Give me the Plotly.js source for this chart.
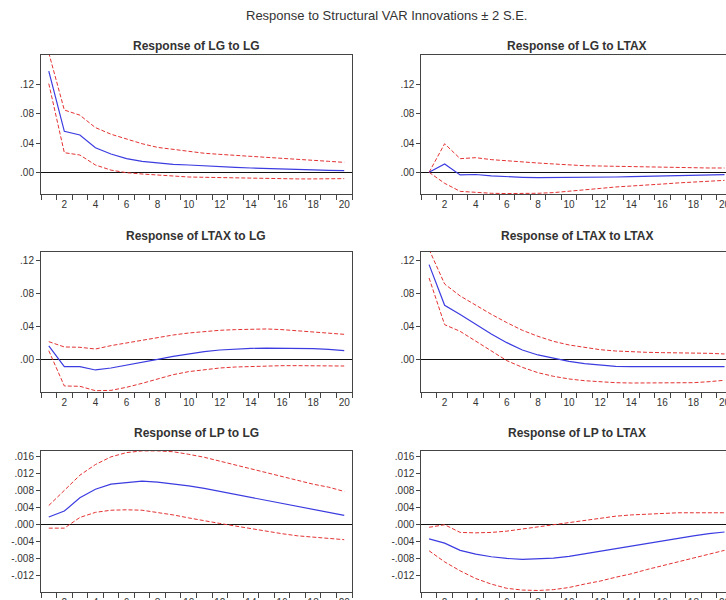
<!DOCTYPE html>
<html><head><meta charset="utf-8">
<script src="https://cdn.plot.ly/plotly-3.0.1.min.js"></script>
<style>html,body{margin:0;padding:0;overflow:hidden;background:#fff;width:726px;height:600px}</style>
</head><body><div id="chart" style="width:736px;height:610px"></div>
<script>
const periods = [1,2,3,4,5,6,7,8,9,10,11,12,13,14,15,16,17,18,19,20];

const lgLg     = [0.138,0.0559,0.0509,0.0336,0.025,0.0186,0.015,0.0127,0.0109,0.010,0.0086,0.0077,0.0068,0.0059,0.005,0.0045,0.0036,0.0032,0.0027,0.0023];
const lgLgUp   = [0.163,0.085,0.078,0.061,0.052,0.045,0.039,0.034,0.031,0.0286,0.026,0.0245,0.023,0.022,0.0205,0.019,0.0177,0.0164,0.015,0.0136];
const lgLgLo   = [0.121,0.0268,0.0236,0.010,0.003,-0.0005,-0.0023,-0.004,-0.0055,-0.0064,-0.0068,-0.0073,-0.0077,-0.0082,-0.0086,-0.009,-0.009,-0.009,-0.0086,-0.0086];

const lgTax    = [0,0.0114,-0.0036,-0.003,-0.005,-0.0064,-0.0068,-0.0073,-0.0073,-0.0073,-0.0068,-0.0068,-0.0064,-0.006,-0.0055,-0.005,-0.0045,-0.004,-0.0036,-0.0032];
const lgTaxUp  = [0,0.039,0.0186,0.020,0.0173,0.0155,0.014,0.0127,0.0114,0.010,0.009,0.0086,0.0082,0.0073,0.0068,0.0068,0.0064,0.0064,0.0059,0.0059];
const lgTaxLo  = [0,-0.015,-0.026,-0.0277,-0.0286,-0.029,-0.029,-0.0286,-0.0277,-0.026,-0.0245,-0.022,-0.020,-0.019,-0.017,-0.016,-0.0145,-0.013,-0.012,-0.011];

const taxLg    = [0.017,-0.0081,-0.0081,-0.0121,-0.0097,-0.0065,-0.0028,0.0008,0.0044,0.0077,0.0101,0.0121,0.0133,0.0141,0.0145,0.0145,0.0141,0.0137,0.0129,0.0113];
const taxLgUp  = [0.0222,0.0158,0.0154,0.0133,0.0174,0.0206,0.0238,0.0275,0.0303,0.0327,0.0347,0.036,0.0368,0.0376,0.0376,0.0368,0.0356,0.0343,0.0327,0.0311];
const taxLgLo  = [0.0113,-0.0315,-0.0319,-0.0372,-0.0368,-0.0331,-0.0283,-0.0226,-0.0178,-0.0141,-0.0117,-0.0097,-0.0085,-0.0077,-0.0077,-0.0069,-0.0069,-0.0069,-0.0069,-0.0073];

const taxTax   = [0.1156,0.0663,0.055,0.0428,0.0315,0.021,0.0121,0.0061,0.002,-0.0016,-0.0044,-0.0065,-0.0077,-0.0081,-0.0081,-0.0081,-0.0081,-0.0081,-0.0081,-0.0081];
const taxTaxUp = [0.134,0.0921,0.0776,0.0663,0.0554,0.0453,0.036,0.0287,0.0226,0.0182,0.015,0.0125,0.0109,0.0097,0.0093,0.0089,0.0089,0.0085,0.0081,0.0073];
const taxTaxLo = [0.0994,0.0428,0.0347,0.0226,0.0105,-0.0008,-0.0089,-0.0154,-0.0198,-0.023,-0.0251,-0.0267,-0.0275,-0.0279,-0.0279,-0.0279,-0.0279,-0.0275,-0.0263,-0.0246];

const lpLg     = [0.0017,0.0031,0.0062,0.0082,0.0094,0.0098,0.0101,0.0099,0.0095,0.009,0.0084,0.0077,0.007,0.0063,0.0055,0.0048,0.0041,0.0034,0.0028,0.0021];
const lpLgUp   = [0.0044,0.008,0.0115,0.014,0.0158,0.0168,0.0172,0.0172,0.017,0.0164,0.0157,0.0148,0.0139,0.013,0.0121,0.0112,0.0103,0.0094,0.0087,0.0077];
const lpLgLo   = [-0.0009,-0.0009,0.0016,0.0028,0.0033,0.0034,0.0033,0.0028,0.0022,0.0015,0.0008,0.0002,-0.0004,-0.001,-0.0017,-0.0022,-0.0027,-0.003,-0.0032,-0.0036];

const lpTax    = [-0.0034,-0.0044,-0.0061,-0.007,-0.0076,-0.008,-0.0082,-0.0081,-0.0079,-0.0075,-0.0069,-0.0063,-0.0057,-0.0051,-0.0044,-0.0038,-0.0032,-0.0027,-0.0022,-0.0018];
const lpTaxUp  = [-0.0007,-0.0001,-0.0019,-0.002,-0.0019,-0.0016,-0.0011,-0.0006,-0.0001,0.0005,0.0009,0.0015,0.0019,0.0022,0.0024,0.0026,0.0027,0.0027,0.0027,0.0027];
const lpTaxLo  = [-0.0062,-0.0088,-0.0109,-0.0127,-0.014,-0.015,-0.0154,-0.0155,-0.0153,-0.0148,-0.014,-0.0133,-0.0124,-0.0116,-0.0106,-0.0097,-0.0087,-0.0078,-0.0069,-0.0061];

const panelTitles = ["Response of LG to LG","Response of LG to LTAX","Response of LTAX to LG","Response of LTAX to LTAX","Response of LP to LG","Response of LP to LTAX"];
const mainTitle = "Response to Structural VAR Innovations \u00b1 2 S.E.";
const xTickVals = [2,4,6,8,10,12,14,16,18,20];
const xTickText = ["2","4","6","8","10","12","14","16","18","20"];
const xTickMarks = [0.5,1.5,2.5,3.5,4.5,5.5,6.5,7.5,8.5,9.5,10.5,11.5,12.5,13.5,14.5,15.5,16.5,17.5,18.5,19.5,20.5];
const yTickValsA = [0,0.04,0.08,0.12];
const yTickTextA = [".00",".04",".08",".12"];
const yTickValsB = [-0.012,-0.008,-0.004,0,0.004,0.008,0.012,0.016];
const yTickTextB = ["-.012","-.008","-.004",".000",".004",".008",".012",".016"];

const panelData = [
  [lgLg,lgLgUp,lgLgLo],[lgTax,lgTaxUp,lgTaxLo],
  [taxLg,taxLgUp,taxLgLo],[taxTax,taxTaxUp,taxTaxLo],
  [lpLg,lpLgUp,lpLgLo],[lpTax,lpTaxUp,lpTaxLo]
];

const W=736,H=610;
const cols=[[41,352],[421.3,732.3]];
const rows=[[55,194],[251.5,392],[450.5,591.5]];
const yRanges=[[-0.0296,0.1601],[-0.0388,0.1315],[-0.01574,0.01729]];
const titleY=[46.5,236,433.3];
const FONT="Liberation Sans, Arial, sans-serif";
const BLUE="rgb(60,60,225)", RED="rgb(228,50,50)", AX="#444";

const traces=[], layout={
  width:W,height:H,margin:{l:0,r:0,t:0,b:0},
  paper_bgcolor:"#fff",plot_bgcolor:"#fff",showlegend:false,
  font:{family:FONT,size:10,color:"#333"},
  annotations:[]
};
layout.annotations.push({text:mainTitle,xref:"paper",yref:"paper",x:386.5/W,y:1-15/H,
  xanchor:"center",yanchor:"middle",showarrow:false,font:{family:FONT,size:13,color:"#333"}});

for(let i=0;i<6;i++){
  const r=Math.floor(i/2), c=i%2, n=i+1;
  const xa="x"+(n>1?n:""), ya="y"+(n>1?n:"");
  const [mid,up,lo]=panelData[i];
  traces.push({x:periods,y:up,xaxis:xa,yaxis:ya,mode:"lines",line:{color:RED,width:1,dash:"4px,2px"},hoverinfo:"skip"});
  traces.push({x:periods,y:lo,xaxis:xa,yaxis:ya,mode:"lines",line:{color:RED,width:1,dash:"4px,2px"},hoverinfo:"skip"});
  traces.push({x:periods,y:mid,xaxis:xa,yaxis:ya,mode:"lines",line:{color:BLUE,width:1.2},hoverinfo:"skip"});
  const isB = r===2;
  layout["xaxis"+(n>1?n:"")]={
    domain:[cols[c][0]/W,cols[c][1]/W],anchor:ya,range:[0.5,20.5],
    showline:true,mirror:true,linecolor:AX,linewidth:1,showgrid:false,zeroline:false,
    tickmode:"array",tickvals:xTickVals,ticktext:xTickText,ticks:"",ticklabelstandoff:1,
    tickfont:{family:FONT,size:10,color:"#333"},
    minor:{tickmode:"array",tickvals:xTickMarks,
      ticks:"outside",ticklen:5,tickwidth:1,tickcolor:AX,showgrid:false}
  };
  layout["yaxis"+(n>1?n:"")]={
    domain:[1-rows[r][1]/H,1-rows[r][0]/H],anchor:xa,range:yRanges[r],
    showline:true,mirror:true,linecolor:AX,linewidth:1,showgrid:false,
    zeroline:true,zerolinecolor:"#111",zerolinewidth:1,
    tickmode:"array",tickvals:isB?yTickValsB:yTickValsA,ticktext:isB?yTickTextB:yTickTextA,
    ticks:"outside",ticklen:4,tickwidth:1,tickcolor:AX,
    tickfont:{family:FONT,size:10,color:"#333"}
  };
  layout.annotations.push({text:panelTitles[i],xref:"paper",yref:"paper",
    x:((cols[c][0]+cols[c][1])/2)/W,y:1-titleY[r]/H,xanchor:"center",yanchor:"middle",
    showarrow:false,font:{family:FONT,size:12,color:"#333",weight:"bold"}});
}
Plotly.newPlot("chart",traces,layout,{staticPlot:true,displayModeBar:false});
</script></body></html>
